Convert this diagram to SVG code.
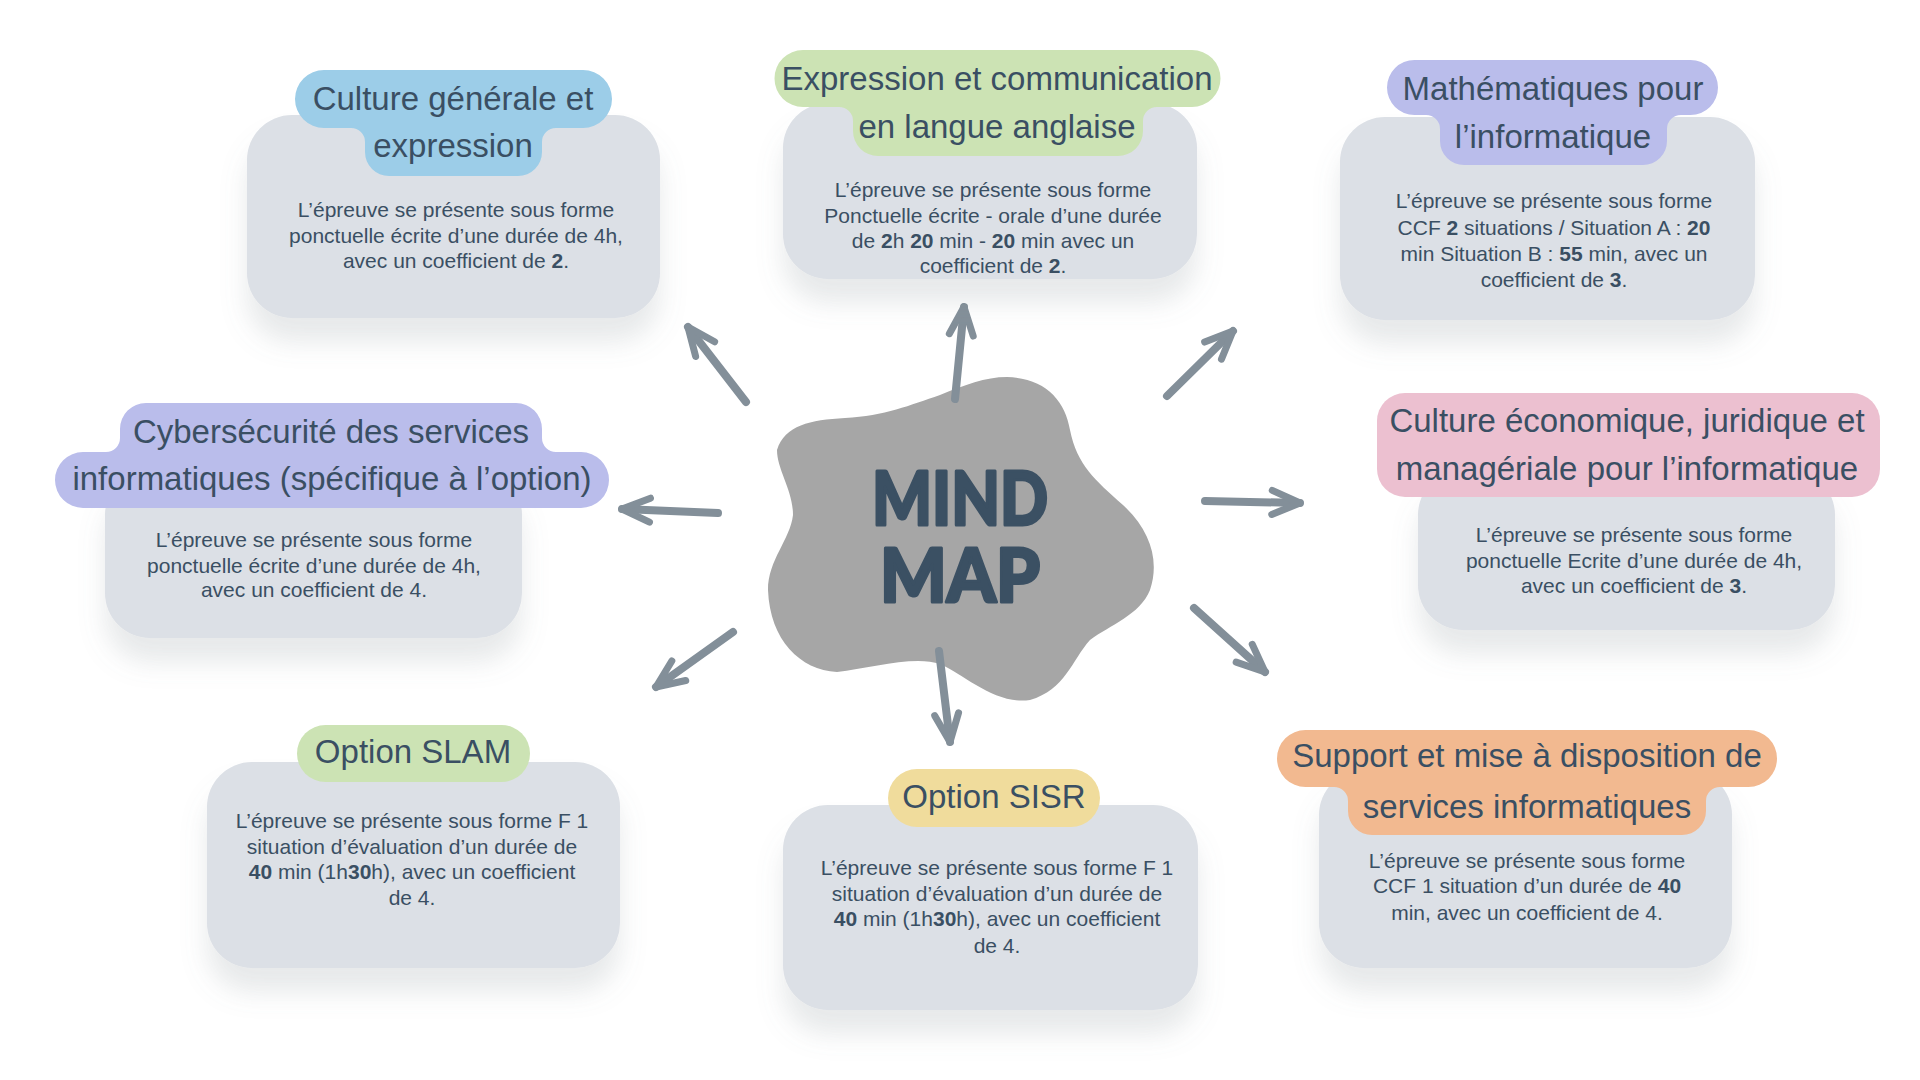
<svg xmlns="http://www.w3.org/2000/svg" width="1920" height="1080" viewBox="0 0 1920 1080">
<defs>
<style>
.card{fill:#dce0e6;filter:url(#sh)}
.ttl{font-family:"Liberation Sans","DejaVu Sans",sans-serif;font-size:33px;fill:#3a4f63;text-anchor:middle}
.body{font-family:"Liberation Sans","DejaVu Sans",sans-serif;font-size:21px;fill:#3a4f63;text-anchor:middle}
.b{font-weight:bold}
.conn{fill:none;stroke:#838f99;stroke-width:8;stroke-linecap:round;stroke-linejoin:round}
.big{font-family:"Lato","Liberation Sans",sans-serif;font-weight:900;font-size:74px;fill:#3b5063;stroke:#3b5063;stroke-width:3;stroke-linejoin:round;text-anchor:middle}
</style>
<filter id="sh" x="-20%" y="-20%" width="140%" height="160%">
<feDropShadow dx="0" dy="24" stdDeviation="13" flood-color="#7d848e" flood-opacity="0.18"/>
</filter>
<marker id="ah" markerUnits="userSpaceOnUse" markerWidth="44" markerHeight="44" viewBox="-38 -22 44 44" refX="0" refY="0" orient="auto" overflow="visible">
<path d="M-28,-12 L0,0 L-28,12" fill="none" stroke="#838f99" stroke-width="7" stroke-linecap="round" stroke-linejoin="round"/>
</marker>
</defs>
<rect width="1920" height="1080" fill="#ffffff"/>

<g id="center">
<path d="M1007,377 C1045,378 1065,400 1070,430 C1077,465 1095,480 1123,505 C1150,530 1160,560 1150,590 C1140,615 1110,625 1090,640 C1072,660 1065,690 1030,700 C995,705 965,675 940,664 C915,655 870,668 837,672 C800,670 770,640 768,590 C768,560 790,540 793,515 C793,490 777,470 777,450 C785,425 810,420 845,418 C885,416 910,405 940,395 C965,385 985,377 1007,377 Z" fill="#a6a6a6"/>
<text class="big" x="960" y="525" textLength="176" lengthAdjust="spacingAndGlyphs">MIND</text>
<text class="big" x="960" y="602" textLength="160" lengthAdjust="spacingAndGlyphs">MAP</text>
</g>

<g id="connectors">
<path class="conn" d="M746,402 L688,327" marker-end="url(#ah)"/>
<path class="conn" d="M955,399 L964,307" marker-end="url(#ah)"/>
<path class="conn" d="M1167,396 L1233,331" marker-end="url(#ah)"/>
<path class="conn" d="M718,513 L622,509" marker-end="url(#ah)"/>
<path class="conn" d="M1205,501 L1300,503" marker-end="url(#ah)"/>
<path class="conn" d="M733,632 L656,687" marker-end="url(#ah)"/>
<path class="conn" d="M939,651 L950,742" marker-end="url(#ah)"/>
<path class="conn" d="M1194,608 L1265,672" marker-end="url(#ah)"/>
</g>

<g id="culture-generale">
<rect class="card" x="247" y="115" width="413" height="203" rx="45"/>
<path fill="#9ccde8" d="M324,70 H583 A29,29 0 0 1 583,128 H556 A14,14 0 0 0 542,142 V152 A24,24 0 0 1 518,176 H389 A24,24 0 0 1 365,152 V142 A14,14 0 0 0 351,128 H324 A29,29 0 0 1 324,70 Z"/>
<text class="ttl" x="453" y="110">Culture générale et</text>
<text class="ttl" x="453" y="157">expression</text>
<text class="body" x="456" y="217">L’épreuve se présente sous forme</text>
<text class="body" x="456" y="243">ponctuelle écrite d’une durée de 4h,</text>
<text class="body" x="456" y="268">avec un coefficient de <tspan class="b">2</tspan>.</text>
</g>

<g id="expression-communication">
<rect class="card" x="783" y="103" width="414" height="176" rx="45"/>
<path fill="#cce3b4" d="M803,50 H1192 A28.5,28.5 0 0 1 1192,107 H1157 A14,14 0 0 0 1143,121 V131 A25,25 0 0 1 1118,156 H878 A25,25 0 0 1 853,131 V121 A14,14 0 0 0 839,107 H803 A28.5,28.5 0 0 1 803,50 Z"/>
<text class="ttl" x="997" y="90">Expression et communication</text>
<text class="ttl" x="997" y="138">en langue anglaise</text>
<text class="body" x="993" y="197">L’épreuve se présente sous forme</text>
<text class="body" x="993" y="223">Ponctuelle écrite - orale d’une durée</text>
<text class="body" x="993" y="248">de <tspan class="b">2</tspan>h <tspan class="b">20</tspan> min - <tspan class="b">20</tspan> min avec un</text>
<text class="body" x="993" y="273">coefficient de <tspan class="b">2</tspan>.</text>
</g>

<g id="mathematiques">
<rect class="card" x="1340" y="117" width="415" height="203" rx="45"/>
<path fill="#babdeb" d="M1414.5,60 H1690.5 A27.5,27.5 0 0 1 1690.5,115 H1681 A14,14 0 0 0 1667,129 V141 A24,24 0 0 1 1643,165 H1464 A24,24 0 0 1 1440,141 V129 A14,14 0 0 0 1426,115 H1414.5 A27.5,27.5 0 0 1 1414.5,60 Z"/>
<text class="ttl" x="1553" y="100">Mathématiques pour</text>
<text class="ttl" x="1553" y="148">l’informatique</text>
<text class="body" x="1554" y="208">L’épreuve se présente sous forme</text>
<text class="body" x="1554" y="235">CCF <tspan class="b">2</tspan> situations / Situation A : <tspan class="b">20</tspan></text>
<text class="body" x="1554" y="261">min Situation B : <tspan class="b">55</tspan> min, avec un</text>
<text class="body" x="1554" y="287">coefficient de <tspan class="b">3</tspan>.</text>
</g>

<g id="cybersecurite">
<rect class="card" x="105" y="470" width="417" height="168" rx="45"/>
<path fill="#babdeb" d="M146,403 H516 A26,26 0 0 1 542,429 V438 A14,14 0 0 0 556,452 H581 A28,28 0 0 1 581,508 H83 A28,28 0 0 1 83,452 H106 A14,14 0 0 0 120,438 V429 A26,26 0 0 1 146,403 Z"/>
<text class="ttl" x="331" y="443">Cybersécurité des services</text>
<text class="ttl" x="332" y="490">informatiques (spécifique à l’option)</text>
<text class="body" x="314" y="547">L’épreuve se présente sous forme</text>
<text class="body" x="314" y="573">ponctuelle écrite d’une durée de 4h,</text>
<text class="body" x="314" y="597">avec un coefficient de 4.</text>
</g>

<g id="culture-economique">
<rect class="card" x="1418" y="470" width="417" height="160" rx="45"/>
<rect fill="#ecc0d0" x="1377" y="393" width="503" height="104" rx="28"/>
<text class="ttl" x="1627" y="432">Culture économique, juridique et</text>
<text class="ttl" x="1627" y="480">managériale pour l’informatique</text>
<text class="body" x="1634" y="542">L’épreuve se présente sous forme</text>
<text class="body" x="1634" y="568">ponctuelle Ecrite d’une durée de 4h,</text>
<text class="body" x="1634" y="593">avec un coefficient de <tspan class="b">3</tspan>.</text>
</g>

<g id="option-slam">
<rect class="card" x="207" y="762" width="413" height="206" rx="45"/>
<rect fill="#cce3b4" x="297" y="725" width="233" height="57" rx="28.5"/>
<text class="ttl" x="413" y="763">Option SLAM</text>
<text class="body" x="412" y="828">L’épreuve se présente sous forme F 1</text>
<text class="body" x="412" y="854">situation d’évaluation d’un durée de</text>
<text class="body" x="412" y="879"><tspan class="b">40</tspan> min (1h<tspan class="b">30</tspan>h), avec un coefficient</text>
<text class="body" x="412" y="905">de 4.</text>
</g>

<g id="option-sisr">
<rect class="card" x="783" y="805" width="415" height="205" rx="45"/>
<rect fill="#f0dc9c" x="888" y="769" width="212" height="58" rx="29"/>
<text class="ttl" x="994" y="808">Option SISR</text>
<text class="body" x="997" y="875">L’épreuve se présente sous forme F 1</text>
<text class="body" x="997" y="901">situation d’évaluation d’un durée de</text>
<text class="body" x="997" y="926"><tspan class="b">40</tspan> min (1h<tspan class="b">30</tspan>h), avec un coefficient</text>
<text class="body" x="997" y="953">de 4.</text>
</g>

<g id="support-services">
<rect class="card" x="1319" y="770" width="413" height="198" rx="45"/>
<path fill="#f2b990" d="M1305.5,730 H1748.5 A28.5,28.5 0 0 1 1748.5,787 H1720 A14,14 0 0 0 1706,801 V811 A24,24 0 0 1 1682,835 H1372 A24,24 0 0 1 1348,811 V801 A14,14 0 0 0 1334,787 H1305.5 A28.5,28.5 0 0 1 1305.5,730 Z"/>
<text class="ttl" x="1527" y="767">Support et mise à disposition de</text>
<text class="ttl" x="1527" y="818">services informatiques</text>
<text class="body" x="1527" y="868">L’épreuve se présente sous forme</text>
<text class="body" x="1527" y="893">CCF 1 situation d’un durée de <tspan class="b">40</tspan></text>
<text class="body" x="1527" y="920">min, avec un coefficient de 4.</text>
</g>
</svg>
